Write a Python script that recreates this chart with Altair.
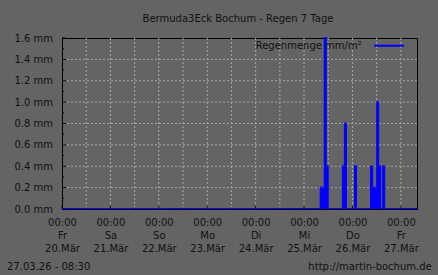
import json
import altair as alt
import pandas as pd

# ---------------- data ----------------
n_hours = 176  # 20.03. 00:00 .. 27.03. 08:00
rain_hours = [128, 129, 130, 131, 139, 140, 145, 153, 154, 155, 156, 157, 159]
rain_mm = [0.2, 0.2, 1.6, 0.4, 0.4, 0.8, 0.4, 0.4, 0.2, 0.2, 1.0, 0.4, 0.4]

day_hours = [0, 24, 48, 72, 96, 120, 144, 168]
day_names = ["Fr", "Sa", "So", "Mo", "Di", "Mi", "Do", "Fr"]
day_dates = ["20.Mär", "21.Mär", "22.Mär", "23.Mär", "24.Mär", "25.Mär", "26.Mär", "27.Mär"]
half_day_hours = [12, 36, 60, 84, 108, 132, 156]
grid_hours = [12, 24, 36, 48, 60, 72, 84, 96, 108, 120, 132, 144, 156, 168]

y_label_values = [0.0, 0.2, 0.4, 0.6, 0.8, 1.0, 1.2, 1.4, 1.6]
y_grid_values = [0.2, 0.4, 0.6, 0.8, 1.0, 1.2, 1.4]
y_minor_values = [0.1, 0.3, 0.5, 0.7, 0.9, 1.1, 1.3, 1.5]

title_text = "Bermuda3Eck Bochum - Regen 7 Tage"
legend_label = "Regenmenge mm/m²"
footer_left = "27.03.26 - 08:30"
footer_right = "http://martin-bochum.de"

# ---------------- style ----------------
BG = "#646464"
TXT = "#111111"
GRID = "#aaaaaa"
BLUE = "#0000ff"
FONT = "DejaVu Sans"
W, H = 355, 171

rain = dict(zip(rain_hours, rain_mm))
series = pd.DataFrame({
    "hour": list(range(n_hours + 1)),
    "mm": [rain.get(h, 0.0) for h in range(n_hours + 1)],
})

xscale = alt.Scale(domain=[0, n_hours], nice=False, zero=False)
yscale = alt.Scale(domain=[0, 1.6], nice=False)

label_expr = (
    "datum.value % 24 == 0 ? ['00:00', "
    + json.dumps(day_names, ensure_ascii=False)
    + "[datum.value / 24], "
    + json.dumps(day_dates, ensure_ascii=False)
    + "[datum.value / 24]] : ''"
)

x_axis = alt.Axis(
    values=day_hours, labelExpr=label_expr, ticks=False, domain=False, grid=False,
    labelFlush=False, labelOverlap=False, labelPadding=8, labelLineHeight=13.3,
    labelBaseline="top", labelFont=FONT, labelFontSize=10, labelColor=TXT, title=None,
)
y_axis = alt.Axis(
    values=y_label_values, labelExpr="format(datum.value, '.1f') + ' mm'",
    ticks=False, domain=False, grid=False, labelPadding=9.5, labelOverlap=False,
    labelFlush=False, labelFont=FONT, labelFontSize=10, labelColor=TXT, title=None,
)


def X():
    return alt.X("hour:Q", scale=xscale, axis=x_axis)


def Y():
    return alt.Y("mm:Q", scale=yscale, axis=y_axis)


# grid lines
vgrid = alt.Chart(pd.DataFrame({"hour": grid_hours})).mark_rule(
    color=GRID, strokeDash=[2, 2], strokeWidth=1
).encode(x=X())

hgrid = alt.Chart(pd.DataFrame({"mm": y_grid_values})).mark_rule(
    color=GRID, strokeDash=[2, 2], strokeWidth=1
).encode(y=Y())

# inward ticks
ytick_major = alt.Chart(pd.DataFrame({"mm": y_label_values})).mark_rule(color="black").encode(
    y=Y(), x=alt.value(0), x2=alt.value(4))
ytick_minor = alt.Chart(pd.DataFrame({"mm": y_minor_values})).mark_rule(color="black").encode(
    y=Y(), x=alt.value(0), x2=alt.value(2))
xtick_major = alt.Chart(pd.DataFrame({"hour": day_hours})).mark_rule(color="black").encode(
    x=X(), y=alt.value(H), y2=alt.value(H - 3))
xtick_minor = alt.Chart(pd.DataFrame({"hour": half_day_hours})).mark_rule(color="black").encode(
    x=X(), y=alt.value(H), y2=alt.value(H - 1.5))

# title
title = alt.Chart(pd.DataFrame({"t": [title_text]})).mark_text(
    align="center", baseline="alphabetic", font=FONT, fontSize=10, color=TXT
).encode(text="t:N", x=alt.value(W / 2 - 1.5), y=alt.value(-16.5))

# legend
legend_text = alt.Chart(pd.DataFrame({"t": [legend_label]})).mark_text(
    align="left", baseline="middle", font=FONT, fontSize=10, color=TXT
).encode(text="t:N", x=alt.value(193.7), y=alt.value(8))
legend_line = alt.Chart(pd.DataFrame({"t": [legend_label]})).mark_rule(
    color=BLUE, strokeWidth=2
).encode(x=alt.value(312), x2=alt.value(342), y=alt.value(7.7))

# rain data
area = alt.Chart(series).mark_area(interpolate="step-after", color=BLUE, opacity=1).encode(
    x=X(), y=Y())
line = alt.Chart(series).mark_line(interpolate="step-after", color=BLUE, strokeWidth=1, yOffset=-0.5).encode(
    x=X(), y=Y())

# footer
foot_l = alt.Chart(pd.DataFrame({"t": [footer_left]})).mark_text(
    align="left", baseline="middle", font=FONT, fontSize=10, color=TXT
).encode(text="t:N", x=alt.value(-55), y=alt.value(228.7))
foot_r = alt.Chart(pd.DataFrame({"t": [footer_right]})).mark_text(
    align="right", baseline="middle", font=FONT, fontSize=10, color=TXT
).encode(text="t:N", x=alt.value(369.7), y=alt.value(228.7))

chart = alt.layer(
    vgrid, hgrid, ytick_major, ytick_minor, xtick_major, xtick_minor,
    title, legend_text, legend_line, area, line, foot_l, foot_r,
).properties(
    width=W, height=H,
    background=BG,
    padding={"left": 62, "top": 38, "right": 21, "bottom": 66},
    autosize=alt.AutoSizeParams(type="none"),
).configure_view(
    fill=BG, stroke="black", strokeWidth=1
)

chart.save("out.html", embed_options={"renderer": "svg", "actions": False})
